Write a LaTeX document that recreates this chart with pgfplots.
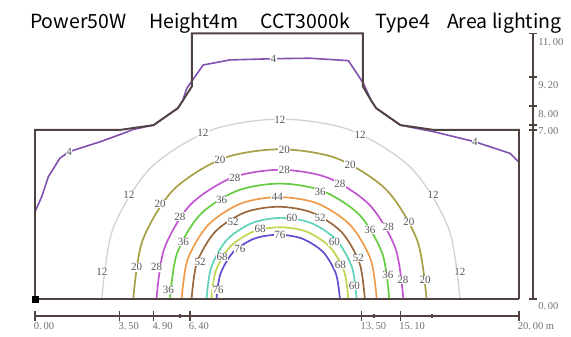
\documentclass[border=0pt]{standalone}
\usepackage{fontspec}
\setmainfont{Liberation Serif}
\newfontfamily\titlefont{Noto Sans CJK SC}
\usepackage{pgfplots}
\pgfplotsset{compat=1.18}
\definecolor{cfour}{RGB}{130,80,175}
\definecolor{ctwelve}{RGB}{210,210,210}
\definecolor{ctwenty}{RGB}{165,160,70}
\definecolor{ctwentyeight}{RGB}{195,85,210}
\definecolor{cthirtysix}{RGB}{100,205,65}
\definecolor{cfortyfour}{RGB}{240,155,75}
\definecolor{cfiftytwo}{RGB}{155,105,62}
\definecolor{csixty}{RGB}{95,210,185}
\definecolor{csixtyeight}{RGB}{190,215,80}
\definecolor{cseventysix}{RGB}{92,80,205}
\definecolor{outl}{RGB}{80,66,64}
\definecolor{labtxt}{RGB}{85,85,85}
\definecolor{dimtxt}{RGB}{115,110,110}
\newcommand\lab[3]{\node[fill=white, inner sep=0.5pt, text=labtxt, font=\fontsize{11}{11}\selectfont] at (axis cs:#1,#2) {#3};}
\newcommand\dlab[3]{\node[anchor=west, inner sep=0pt, text=dimtxt, font=\fontsize{10.5}{10.5}\selectfont] at (axis cs:#1,#2) {#3};}
\newcommand\btick[1]{\draw[outl, line width=1.5pt] (axis cs:#1,-0.9) -- (axis cs:#1,-0.5);}
\newcommand\bdot[1]{\draw[outl, line width=1.5pt] (axis cs:#1,-0.78) -- (axis cs:#1,-0.62);}
\newcommand\rtick[1]{\draw[outl, line width=1.5pt] (axis cs:20.42,#1) -- (axis cs:20.74,#1);}
\begin{document}
\begin{tikzpicture}
\begin{axis}[scale only axis, width=571pt, height=337pt,
  xmin=-1.4463, xmax=22.149, ymin=-1.5735, ymax=12.381,
  hide axis, clip=false]
\path (axis cs:-1.4463,-1.5735) rectangle (axis cs:22.149,12.381);
% contour 4
\addplot[cfour, line width=1.6pt] coordinates {(0,3.61) (0.28,4.24) (0.55,5.06) (1.03,5.83) (1.41,6.1) (2.69,6.51) (3.65,6.86) (4.05,7.02) (4.9,7.2) (5.9,7.9) (6.1,8.2) (6.27,8.72) (6.95,9.69) (8.06,9.9) (9.85,9.95) (11.36,9.97) (12.95,9.87) (13.57,8.93) (13.9,8.2) (14.1,7.9) (15.1,7.2) (16.46,6.93) (18.18,6.51) (19.63,6.03) (19.97,5.69)};
% contour 12
\addplot[ctwelve, line width=1.3pt, smooth] coordinates {(2.76,0) (3.22,2.90) (4.77,5.42) (7.28,6.99) (10.16,7.45) (13.04,6.99) (15.55,5.42) (17.10,2.90) (17.56,0)};
% contour 20
\addplot[ctwenty, line width=1.7pt, smooth] coordinates {(4.06,0) (4.44,2.41) (5.71,4.51) (7.76,5.82) (10.12,6.2) (12.48,5.82) (14.53,4.51) (15.80,2.41) (16.18,0)};
% contour 28
\addplot[ctwentyeight, line width=1.7pt, smooth] coordinates {(5.02,0) (5.34,2.08) (6.41,3.89) (8.14,5.02) (10.12,5.35) (12.10,5.02) (13.83,3.89) (14.90,2.08) (15.22,0)};
% contour 36
\addplot[cthirtysix, line width=1.7pt, smooth] coordinates {(5.58,0) (5.86,1.86) (6.81,3.48) (8.35,4.48) (10.11,4.78) (11.87,4.48) (13.41,3.48) (14.36,1.86) (14.64,0)};
% contour 44
\addplot[cfortyfour, line width=1.7pt, smooth] coordinates {(6.06,0) (6.31,1.64) (7.16,3.07) (8.52,3.96) (10.09,4.22) (11.66,3.96) (13.02,3.07) (13.87,1.64) (14.12,0)};
% contour 52
\addplot[cfiftytwo, line width=1.7pt, smooth] coordinates {(6.47,0) (6.69,1.49) (7.44,2.78) (8.66,3.58) (10.05,3.82) (11.44,3.58) (12.66,2.78) (13.41,1.49) (13.63,0)};
% contour 60
\addplot[csixty, line width=1.7pt, smooth] coordinates {(7.09,0) (7.28,1.31) (7.93,2.45) (8.98,3.15) (10.19,3.36) (11.40,3.15) (12.45,2.45) (13.10,1.31) (13.29,0)};
% contour 68
\addplot[csixtyeight, line width=1.7pt, smooth] coordinates {(7.29,0) (7.47,1.16) (8.06,2.16) (9.02,2.79) (10.12,2.97) (11.22,2.79) (12.18,2.16) (12.77,1.16) (12.95,0)};
% contour 76
\addplot[cseventysix, line width=1.7pt, smooth] coordinates {(7.50,0) (7.66,1.03) (8.19,1.94) (9.06,2.50) (10.05,2.66) (11.04,2.50) (11.91,1.94) (12.44,1.03) (12.60,0)};
% outline
\addplot[outl, line width=1.9pt] coordinates {(0,0) (0,7) (3.5,7) (4.9,7.2) (5.9,7.9) (6.1,8.2) (6.48,8.8) (6.48,11) (13.55,11) (13.55,8.8) (13.9,8.2) (14.1,7.9) (15.1,7.2) (16.5,7) (20,7) (20,0)};
\addplot[outl, line width=2.1pt] coordinates {(0,0) (20,0)};
\addplot[only marks, mark=square*, mark size=3.2pt, black] coordinates {(0,0)};
% dimension lines
\draw[outl, line width=1.5pt] (axis cs:0,-0.7) -- (axis cs:20,-0.7);
\btick{0}\btick{3.5}\btick{4.9}\btick{6.4}\btick{13.5}\btick{15.1}\btick{20}
\bdot{6.0}\bdot{14.0}\bdot{16.4}
\draw[outl, line width=1.5pt] (axis cs:20.58,0) -- (axis cs:20.58,11);
\rtick{0}\rtick{7}\rtick{7.2}\rtick{8}\rtick{9.2}\rtick{11}
\dlab{-0.05}{-1.12}{0.\,00}
\dlab{3.45}{-1.12}{3.\,50}
\dlab{4.85}{-1.12}{4.\,90}
\dlab{6.35}{-1.12}{6.\,40}
\dlab{13.45}{-1.12}{13.\,50}
\dlab{15.05}{-1.12}{15.\,10}
\dlab{19.95}{-1.12}{20.\,00 m}
\dlab{20.79}{10.64}{11.\,00}
\dlab{20.79}{8.86}{9.\,20}
\dlab{20.79}{7.66}{8.\,00}
\dlab{20.79}{6.96}{7.\,00}
\dlab{20.79}{-0.29}{0.\,00}
% contour labels
\lab{1.41}{6.1}{4}\lab{9.85}{9.95}{4}\lab{18.18}{6.51}{4}
\lab{2.76}{1.13}{12}\lab{3.88}{4.31}{12}\lab{6.94}{6.87}{12}\lab{10.12}{7.41}{12}\lab{13.43}{6.79}{12}\lab{16.45}{4.31}{12}\lab{17.56}{1.13}{12}
\lab{4.2}{1.31}{20}\lab{5.17}{3.93}{20}\lab{7.64}{5.76}{20}\lab{10.3}{6.17}{20}\lab{13.02}{5.57}{20}\lab{15.45}{3.2}{20}\lab{16.12}{0.79}{20}
\lab{5.03}{1.31}{28}\lab{5.99}{3.41}{28}\lab{8.26}{5.0}{28}\lab{10.3}{5.34}{28}\lab{12.6}{4.77}{28}\lab{14.6}{2.97}{28}\lab{15.2}{0.78}{28}
\lab{5.51}{0.37}{36}\lab{6.13}{2.37}{36}\lab{7.71}{4.1}{36}\lab{11.78}{4.44}{36}\lab{13.84}{2.88}{36}\lab{14.58}{0.99}{36}
\lab{10.02}{4.22}{44}
\lab{6.82}{1.54}{52}\lab{8.19}{3.2}{52}\lab{11.78}{3.34}{52}\lab{13.36}{1.7}{52}
\lab{10.61}{3.35}{60}\lab{12.37}{2.37}{60}\lab{13.2}{0.55}{60}
\lab{9.3}{2.9}{68}\lab{7.73}{1.75}{68}\lab{12.62}{1.4}{68}
\lab{10.12}{2.65}{76}\lab{8.47}{2.08}{76}\lab{7.57}{0.37}{76}
% title
\node[anchor=base west, inner sep=0pt, font=\titlefont\fontsize{19.5}{20}\selectfont] at (axis cs:-0.21,11.22) {Power50W};
\node[anchor=base west, inner sep=0pt, font=\titlefont\fontsize{19.5}{20}\selectfont] at (axis cs:4.71,11.22) {Height4m};
\node[anchor=base west, inner sep=0pt, font=\titlefont\fontsize{19.5}{20}\selectfont] at (axis cs:9.30,11.22) {CCT3000k};
\node[anchor=base west, inner sep=0pt, font=\titlefont\fontsize{19.5}{20}\selectfont] at (axis cs:14.05,11.22) {Type4};
\node[anchor=base west, inner sep=0pt, font=\titlefont\fontsize{19.5}{20}\selectfont] at (axis cs:17.02,11.22) {Area lighting};
\end{axis}
\end{tikzpicture}
\end{document}
